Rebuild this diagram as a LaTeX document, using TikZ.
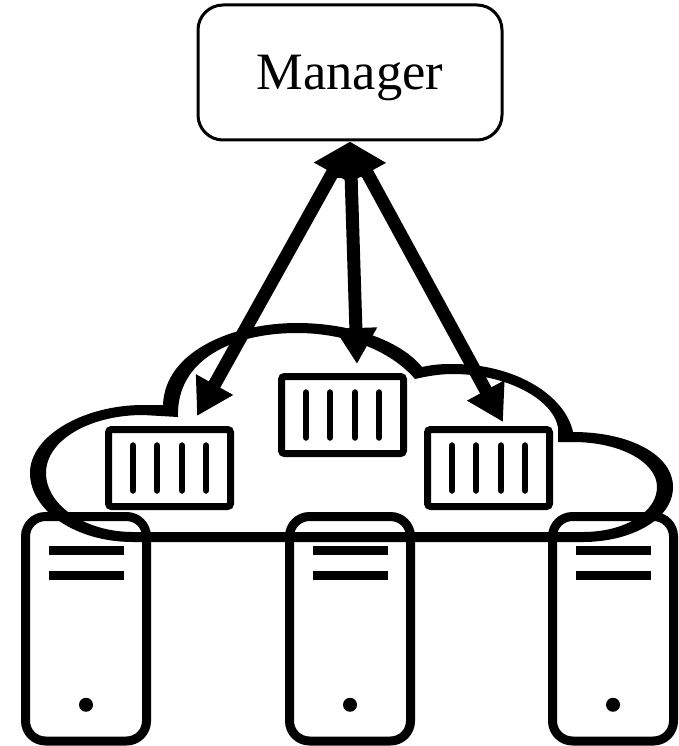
\documentclass[tikz,border=0pt]{standalone}
\usepackage{fontspec}
\setmainfont{Liberation Serif}
\usetikzlibrary{arrows.meta}
\begin{document}
\begin{tikzpicture}[x=1pt,y=-1pt]
            %
            % `manager' is used for the top box.
            % `container' is used for the boxes in the cloud.
            % `server' is used for the towers at the bottom.
            % `link' is used for the double arrows.
            \tikzstyle{manager} = [draw,line width=3pt,rounded corners=25pt,minimum width=304pt,minimum height=135pt,text depth=0pt,font=\fontsize{52.5}{60}\selectfont]
            \tikzstyle{container} = [draw,line width=7pt,rounded corners=3pt,minimum width=122pt,minimum height=77pt,path picture={
                \draw[line width=6.5pt,line cap=round]
                ([shift={(-36.5pt,-22.5pt)}]path picture bounding box.center) -- ([shift={(-36.5pt,22.5pt)}]path picture bounding box.center)
                ([shift={(-12.5pt,-22.5pt)}]path picture bounding box.center) -- ([shift={(-12.5pt,22.5pt)}]path picture bounding box.center)
                ([shift={(12.5pt,-22.5pt)}]path picture bounding box.center) -- ([shift={(12.5pt,22.5pt)}]path picture bounding box.center)
                ([shift={(36.5pt,-22.5pt)}]path picture bounding box.center) -- ([shift={(36.5pt,22.5pt)}]path picture bounding box.center);
                }]
            \tikzstyle{server} = [draw,line width=9pt,rounded corners=20pt,minimum width=121pt,minimum height=224.5pt,path picture={
                \draw[line width=9pt]
                ([shift={(-37.5pt,78pt)}]path picture bounding box.center) -- ([shift={(37.5pt,78pt)}]path picture bounding box.center)
                ([shift={(-37.5pt,53pt)}]path picture bounding box.center) -- ([shift={(37.5pt,53pt)}]path picture bounding box.center);
                \fill ([shift={(0pt,-76pt)}]path picture bounding box.center) circle (7pt);
                }]
            \tikzstyle{link} = [line width=13pt,{Triangle[length=36pt,width=40pt]}-{Triangle[length=36pt,width=40pt]}]
            %
            \useasboundingbox (0,0) rectangle (679,746);
            %
            % Cloud
            \fill[even odd rule] (163,405) .. controls (165,350) and (235,323) .. (297,323)
                .. controls (350,323) and (400,340) .. (422,367)
                .. controls (435,364) and (445,364) .. (453,364)
                .. controls (515,364) and (565,395) .. (573,432)
                .. controls (630,432) and (673,455) .. (673,487)
                .. controls (673,520) and (630,542) .. (583,542)
                -- (133,542) .. controls (75,542) and (30,510) .. (30,473)
                .. controls (30,435) and (85,405) .. (143,405) -- cycle
                (178,417) .. controls (176,360) and (232,333) .. (297,333)
                .. controls (345,333) and (390,350) .. (415,379)
                .. controls (428,376) and (440,374) .. (453,374)
                .. controls (505,374) and (552,398) .. (558,427)
                -- (558,442) -- (573,442) .. controls (620,442) and (657,462) .. (657,487)
                .. controls (657,512) and (625,532) .. (583,532)
                -- (133,532) .. controls (85,532) and (46,505) .. (46,473)
                .. controls (46,440) and (90,415) .. (143,415) -- cycle;
            %
            % Manager
            \node[manager] (manager) at (350,72.5) {Manager};
            %
            % Containers
            \node[container] (box1) at (169.5,468) {};
            \node[container] (box2) at (342.5,415) {};
            \node[container] (box3) at (488.5,468) {};
            %
            % Servers
            \node[server] (server1) at (86,628.75) {};
            \node[server] (server2) at (350,628.75) {};
            \node[server] (server3) at (613,628.75) {};
            %
            % Arrows
            \coordinate (tip1) at (197,416);
            \coordinate (tip2) at (357,364);
            \coordinate (tip3) at (503,422);
            \draw[link] (manager.south) -- (tip1);
            \draw[link] (manager.south) -- (tip2);
            \draw[link] (manager.south) -- (tip3);
\end{tikzpicture}
\end{document}
